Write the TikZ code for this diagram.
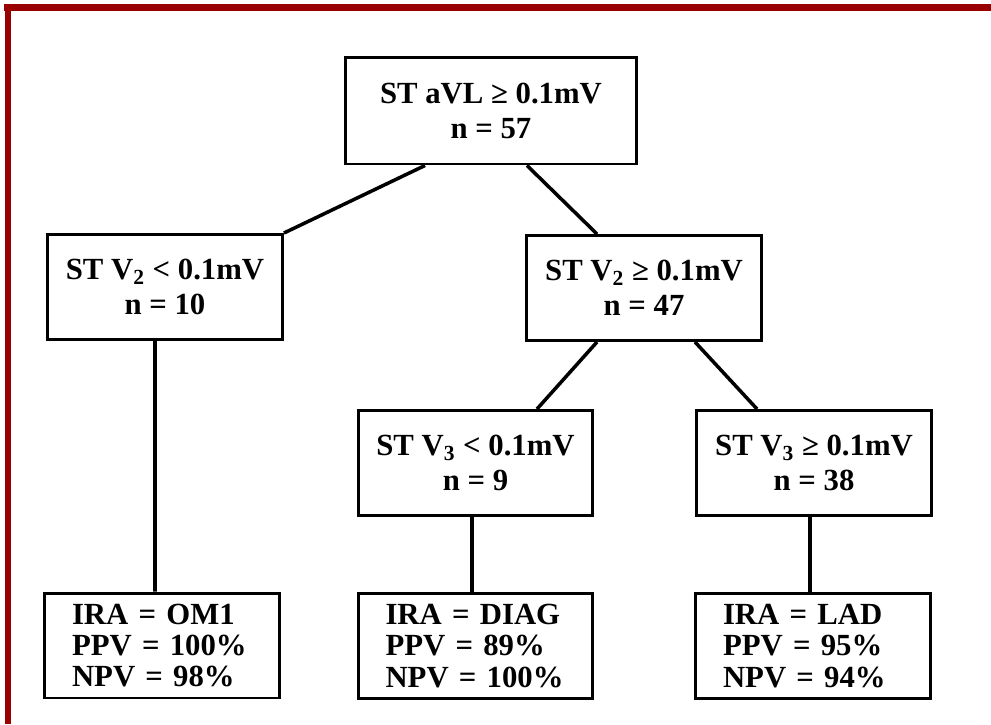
\documentclass[tikz,border=0pt]{standalone}
\usepackage{fontspec}
\setmainfont{Liberation Serif}
\usepackage{tikz}

\definecolor{framered}{HTML}{990000}

\begin{document}
\begin{tikzpicture}[x=0.02cm,y=-0.02cm]
            \tikzset{vertex/.style = {shape=rectangle,draw,line width=1.7pt,align=center,
                minimum width=4.7cm,minimum height=2.1cm,
                font=\bfseries\fontsize{17.5}{20}\selectfont}}
            \tikzset{leaf/.style = {vertex,align=left,text width=3.6cm,inner xsep=0.55cm,
                font=\bfseries\fontsize{17.5}{17.8}\selectfont}}
            \tikzset{edge/.style = {line width=2pt}}
            \useasboundingbox (0,0) rectangle (991,724);
            % frame on top and left
            \fill[framered] (4,4) rectangle (991,11);
            \fill[framered] (5,4) rectangle (11,724);

            \node[vertex, minimum width=5.84cm, minimum height=2.14cm] (r) at (491,110.5) {ST aVL ≥ 0.1mV\\n = 57};
            \node[vertex] (a) at (165,287) {ST V\textsubscript{2} < 0.1mV\\n = 10};
            \node[vertex] (b) at (644,288) {ST V\textsubscript{2} ≥ 0.1mV\\n = 47};
            \node[vertex] (c) at (475.5,463) {ST V\textsubscript{3} < 0.1mV\\n = 9};
            \node[vertex] (d) at (814,463) {ST V\textsubscript{3} ≥ 0.1mV\\n = 38};
            \node[leaf] (e) at (162,645.5) {IRA = OM1\\PPV = 100\%\\NPV = 98\%};
            \node[leaf] (f) at (475.5,646) {IRA = DIAG\\PPV = 89\%\\NPV = 100\%};
            \node[leaf] (g) at (813,646) {IRA = LAD\\PPV = 95\%\\NPV = 94\%};

            \draw[edge] ([xshift=-1.32cm]r.south) -- (a.north east);
            \draw[edge] ([xshift=0.72cm]r.south) -- ([xshift=-0.94cm]b.north);
            \draw[edge] ([xshift=-0.94cm]b.south) -- ([xshift=1.23cm]c.north);
            \draw[edge] ([xshift=1.02cm]b.south) -- ([xshift=-1.14cm]d.north);
            \draw[edge] ([xshift=-0.2cm]a.south) -- ([xshift=-0.14cm]e.north);
            \draw[edge] ([xshift=-0.07cm]c.south) -- ([xshift=-0.07cm]f.north);
            \draw[edge] ([xshift=-0.08cm]d.south) -- ([xshift=-0.06cm]g.north);
        \end{tikzpicture}
\end{document}
